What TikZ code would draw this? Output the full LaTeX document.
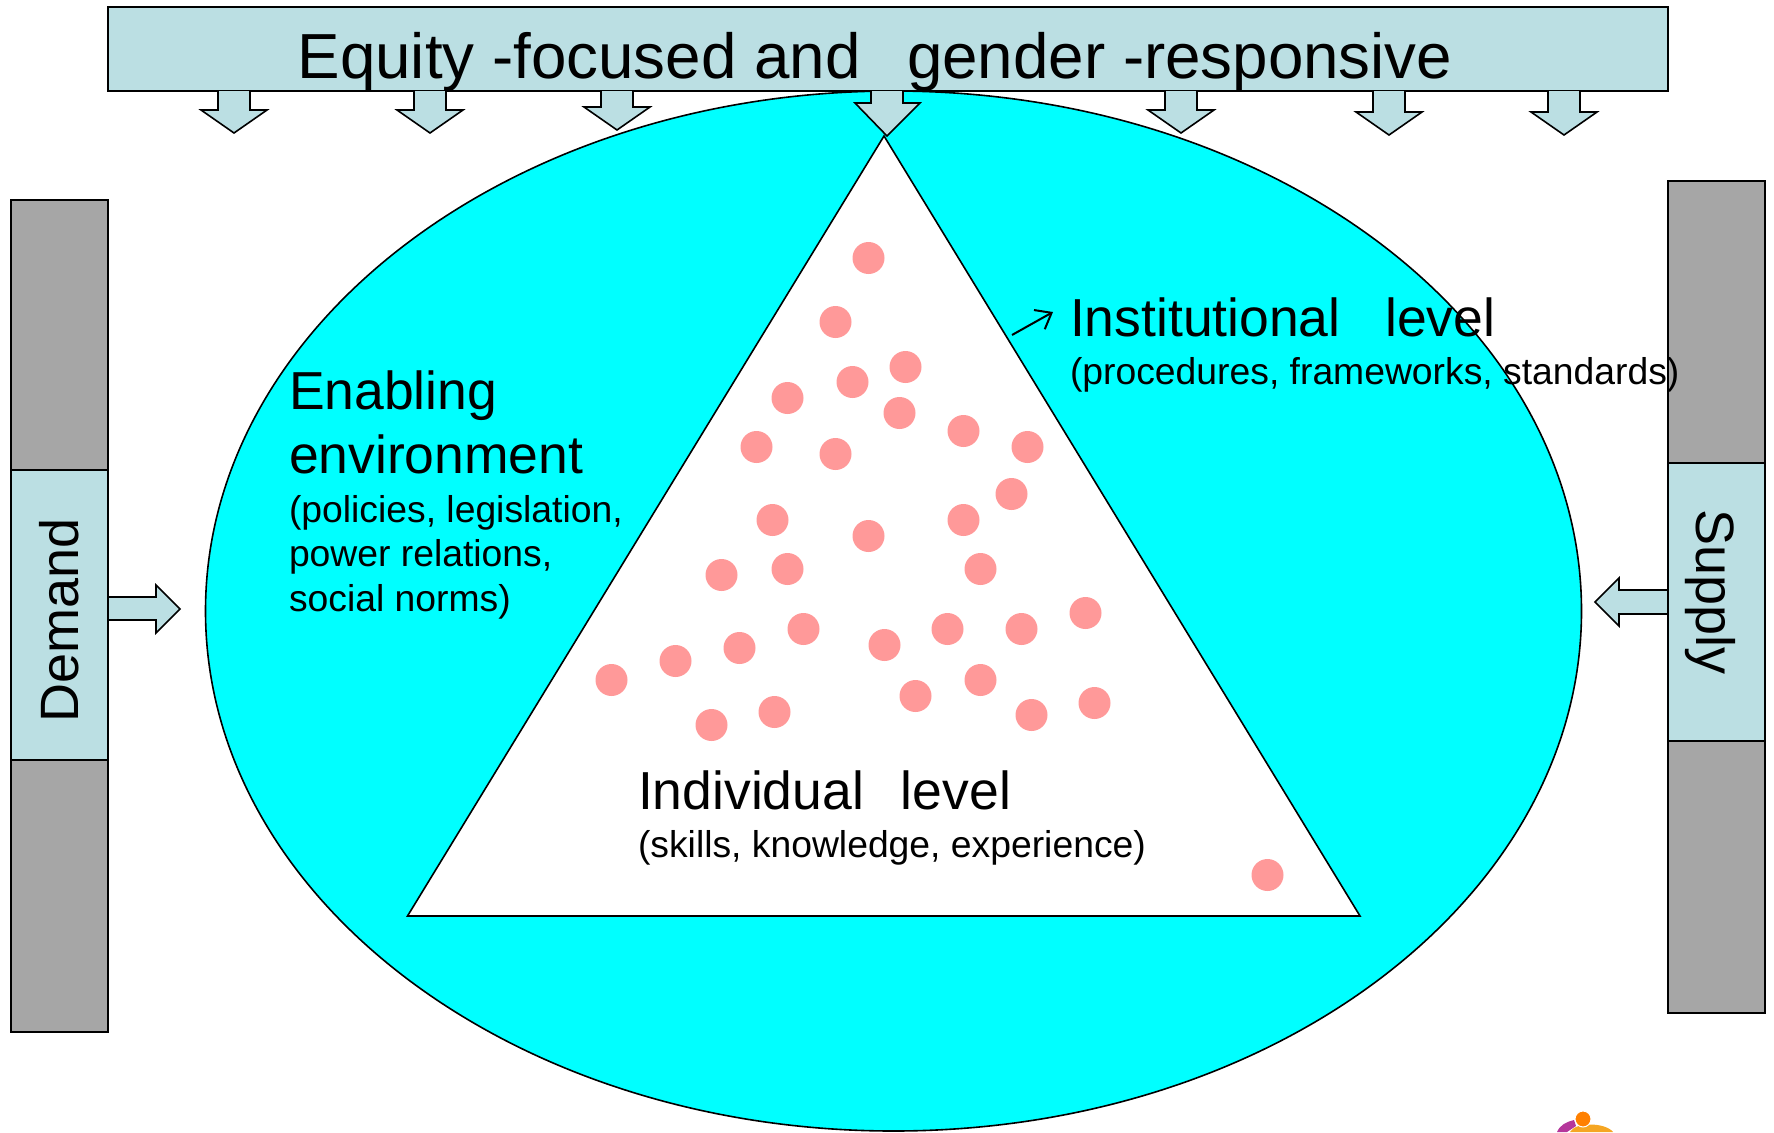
\documentclass[tikz,border=0pt]{standalone}
\usepackage{fontspec}
\setmainfont{Liberation Sans}
\usetikzlibrary{shapes.geometric,arrows.meta}
\definecolor{paleblue}{HTML}{BBDFE3}
\definecolor{barcyan}{HTML}{00FFFF}
\definecolor{bargray}{HTML}{A6A6A6}
\definecolor{dotpink}{HTML}{FF9999}
\definecolor{logoorange}{HTML}{F5A623}
\definecolor{logopurple}{HTML}{B5379B}
\newcommand{\midsize}{\fontsize{53.5}{63.5}\selectfont}
\newcommand{\smallsize}{\fontsize{37.3}{44.7}\selectfont}
\begin{document}
\begin{tikzpicture}[x=1pt,y=-1pt,line width=1.6pt,outer sep=0pt,
    headstyle/.style={inner sep=0pt,anchor=north west,align=left,font=\midsize},
    notestyle/.style={inner sep=0pt,anchor=north west,align=left,font=\smallsize},
    barstyle/.style={draw,fill=bargray,anchor=north west,inner sep=0pt},
    midbar/.style={draw,fill=paleblue,anchor=north west,inner sep=0pt},
    block/.style={draw,fill=paleblue,line width=1.6pt,line join=miter}]
\useasboundingbox (0,0) rectangle (1774,1132);

\node[draw,fill=barcyan,ellipse,minimum width=1376pt,minimum height=1040pt,inner sep=0pt] (env) at (893.5,611) {};
\coordinate (apex) at (884,136);
\coordinate (baseL) at (407.5,916);
\coordinate (baseR) at (1360,916);
\draw[fill=white] (apex) -- (baseL) -- (baseR) -- cycle;

\node[draw,fill=paleblue,anchor=north west,minimum width=1560pt,minimum height=84pt,inner sep=0pt] (equity) at (108,7) {};
\node[inner sep=0pt] (title) at (875,62) {\fontsize{63.7}{70}\selectfont Equity -focused and\hspace{46.5pt}gender -responsive};

% small arrows below the top bar
\foreach \x/\y in {234/110,430/110,617/107,1181/110,1389/112,1564/112}
    \draw[block] (\x-16,91) -- (\x-16,\y) -- (\x-33,\y) -- (\x,\y+23) -- (\x+33,\y) -- (\x+16,\y) -- (\x+16,91);
\draw[block] (871,91) -- (871,103) -- (855,103) -- (887,136) -- (920,103) -- (903,103) -- (903,91);

% side arrows
\draw[block] (108,597) -- (156,597) -- (156,585) -- (180,609) -- (156,633) -- (156,620) -- (108,620);
\draw[block] (1668,590) -- (1619,590) -- (1619,578) -- (1595,602) -- (1619,626) -- (1619,614) -- (1668,614);

\node[barstyle,minimum width=97pt,minimum height=832pt] (demandbar) at (11,200) {};
\node[barstyle,minimum width=97pt,minimum height=832pt] (supplybar) at (1668,181) {};
\node[midbar,minimum width=97pt,minimum height=290pt] (demand) at (11,470) {};
\node[midbar,minimum width=97pt,minimum height=278pt] (supply) at (1668,463) {};
\node[rotate=90] (demandtext) at (59,620) {\fontsize{54}{60}\selectfont Demand};
\node[rotate=-90] (supplytext) at (1710,592) {\fontsize{54}{60}\selectfont Supply};

\foreach \x/\y in {868/258,835/322,905/367,852/382,787/398,899/413,963/431,756/447,835/454,1027/447,
    1011/494,772/520,963/520,868/536,787/569,721/575,980/569,1085/613,803/629,947/629,1021/629,
    739/648,675/661,884/645,611/680,980/680,915/696,774/712,711/725,1031/715,1094/703,1267/875}
    \fill[dotpink] (\x+0.5,\y) circle (16pt);

\node[headstyle] (enabling) at (289,371) {Enabling\\environment};
\node[notestyle] (policies) at (289,495) {(policies, legislation,\\power relations,\\social norms)};
\node[headstyle] (institutional) at (1070,298) {Institutional\ \ \ level};
\node[notestyle] (procedures) at (1070,357) {(procedures, frameworks, standards)};
\node[headstyle] (individual) at (638,771) {Individual\hspace{37pt}level};
\node[notestyle] (skills) at (638,830) {(skills, knowledge, experience)};
\coordinate (pointer) at (1012,335);
\coordinate (pointertip) at (1053,312);
\draw[-{Straight Barb[length=14pt,width=22pt]},line width=2pt] (pointer) -- (pointertip);

% logo corner
\fill[logopurple] (1557,1132) .. controls (1560,1125) and (1566,1122) .. (1574,1120) -- (1576,1126) -- (1567,1132) -- cycle;
\fill[logoorange] (1570,1132) .. controls (1575,1122) and (1605,1122) .. (1613,1132) -- cycle;
\draw[white,fill=orange,line width=1pt] (1583,1119) circle (8pt);
\end{tikzpicture}
\end{document}
